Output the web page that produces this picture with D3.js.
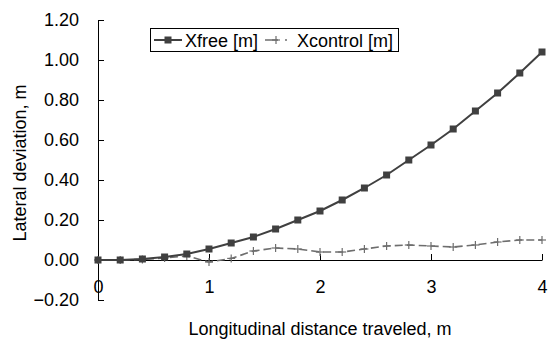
<!DOCTYPE html>
<html>
<head>
<meta charset="utf-8">
<script src="https://cdn.jsdelivr.net/npm/d3@7"></script>
<style>
  html, body { margin: 0; padding: 0; background: #fff; }
  svg { display: block; font-family: "Liberation Sans", Arial, sans-serif; }
</style>
</head>
<body>
<svg id="chart" width="550" height="340"></svg>
<script>
const distance = [0, 0.2, 0.4, 0.6, 0.8, 1.0, 1.2, 1.4, 1.6, 1.8, 2.0, 2.2, 2.4, 2.6, 2.8, 3.0, 3.2, 3.4, 3.6, 3.8, 4.0];
const xfree = [0, 0, 0.005, 0.015, 0.03, 0.055, 0.085, 0.115, 0.155, 0.20, 0.245, 0.30, 0.36, 0.425, 0.50, 0.575, 0.655, 0.745, 0.835, 0.935, 1.04];
const xcontrol = [0, 0, 0.003, 0.01, 0.02, -0.01, 0.008, 0.045, 0.06, 0.055, 0.04, 0.04, 0.055, 0.07, 0.075, 0.07, 0.065, 0.075, 0.09, 0.10, 0.10];
const xTicks = [0, 1, 2, 3, 4];
const yTicks = [-0.2, 0, 0.2, 0.4, 0.6, 0.8, 1.0, 1.2];
const seriesNames = ["Xfree [m]", "Xcontrol [m]"];

const svg = d3.select("#chart");
const x = d3.scaleLinear().domain([0, 4]).range([98, 542]);
const y = d3.scaleLinear().domain([-0.2, 1.2]).range([300, 20]);
const fontSize = 18;

// Y axis
const yAxis = svg.append("g").attr("transform", `translate(${x(0)},0)`)
  .call(d3.axisLeft(y).tickValues(yTicks).tickFormat(d3.format(".2f"))
    .tickSizeInner(-6).tickSizeOuter(0).tickPadding(19));
yAxis.selectAll("text").attr("font-size", fontSize).attr("fill", "#000").attr("font-family", "Liberation Sans, Arial, sans-serif");
yAxis.selectAll("line, path").attr("stroke", "#000");

// X axis at y=0
const xAxis = svg.append("g").attr("transform", `translate(0,${y(0)})`)
  .call(d3.axisBottom(x).tickValues(xTicks).tickFormat(d3.format("d"))
    .tickSizeInner(-6).tickSizeOuter(0).tickPadding(20));
xAxis.selectAll("text").attr("font-size", fontSize).attr("fill", "#000").attr("font-family", "Liberation Sans, Arial, sans-serif");
xAxis.selectAll("line, path").attr("stroke", "#000");

// Axis titles
svg.append("text")
  .attr("transform", `translate(26,163) rotate(-90)`)
  .attr("text-anchor", "middle")
  .attr("font-size", fontSize)
  .text("Lateral deviation, m");
svg.append("text")
  .attr("x", 320).attr("y", 335)
  .attr("text-anchor", "middle")
  .attr("font-size", fontSize)
  .text("Longitudinal distance traveled, m");

const line = d3.line().x(d => x(d[0])).y(d => y(d[1]));
const freePts = distance.map((d, i) => [d, xfree[i]]);
const ctrlPts = distance.map((d, i) => [d, xcontrol[i]]);

const colFree = "#404040";
const colCtrl = "#6e6e6e";

// Xcontrol series
svg.append("path").datum(ctrlPts).attr("d", line)
  .attr("fill", "none").attr("stroke", colCtrl).attr("stroke-width", 1.6)
  .attr("stroke-dasharray", "8,4");
const plus = (g, cx, cy) => {
  g.append("line").attr("x1", cx - 4).attr("x2", cx + 4).attr("y1", cy).attr("y2", cy)
    .attr("stroke", colCtrl).attr("stroke-width", 1.2);
  g.append("line").attr("x1", cx).attr("x2", cx).attr("y1", cy - 4).attr("y2", cy + 4)
    .attr("stroke", colCtrl).attr("stroke-width", 1.2);
};
const ctrlG = svg.append("g");
ctrlPts.forEach(p => plus(ctrlG, x(p[0]), y(p[1])));

// Xfree series
svg.append("path").datum(freePts).attr("d", line)
  .attr("fill", "none").attr("stroke", colFree).attr("stroke-width", 2);
svg.append("g").selectAll("rect").data(freePts).join("rect")
  .attr("x", d => x(d[0]) - 3.5).attr("y", d => y(d[1]) - 3.5)
  .attr("width", 7).attr("height", 7).attr("fill", colFree);

// Legend
const lg = svg.append("g");
lg.append("rect").attr("x", 150.5).attr("y", 28.5).attr("width", 248).attr("height", 23)
  .attr("fill", "#fff").attr("stroke", "#000").attr("stroke-width", 1);
lg.append("line").attr("x1", 154).attr("x2", 182).attr("y1", 40).attr("y2", 40)
  .attr("stroke", colFree).attr("stroke-width", 2);
lg.append("rect").attr("x", 164.5).attr("y", 36.5).attr("width", 7).attr("height", 7).attr("fill", colFree);
lg.append("text").attr("x", 185).attr("y", 46.5).attr("font-size", fontSize).text(seriesNames[0]);
lg.append("line").attr("x1", 265).attr("x2", 293).attr("y1", 40).attr("y2", 40)
  .attr("stroke", colCtrl).attr("stroke-width", 1.6).attr("stroke-dasharray", "13,7,2,6");
plus(lg, 276, 40);
lg.append("text").attr("x", 297).attr("y", 46.5).attr("font-size", fontSize).text(seriesNames[1]);
</script>
</body>
</html>
